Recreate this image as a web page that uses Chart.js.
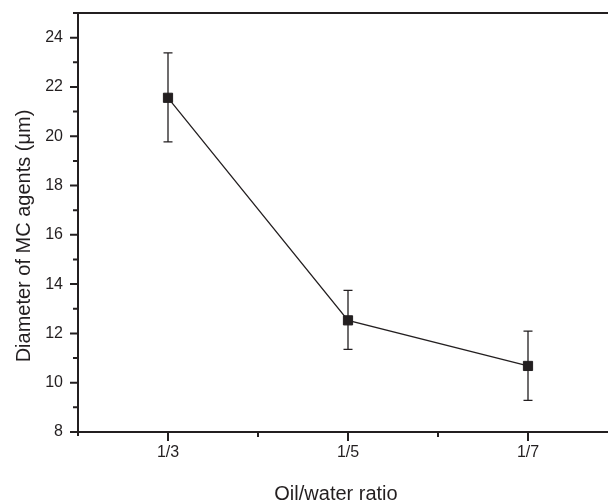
<!DOCTYPE html>
<html>
<head>
<meta charset="utf-8">
<script src="https://cdn.jsdelivr.net/npm/chart.js@4"></script>
<style>
  html, body { margin: 0; padding: 0; background: #fff; overflow: hidden; }
  #wrap { width: 608px; height: 502px; overflow: hidden; }
</style>
</head>
<body>
<div id="wrap"><canvas id="diameterChart" width="640" height="502"></canvas></div>
<script>
// oil/water ratio categories and measured diameters (um)
const categories = ['1/3', '1/5', '1/7'];
const diameter = [21.56, 12.53, 10.68];
const errUpper = [23.38, 13.75, 12.09];
const errLower = [19.77, 11.35, 9.28];
const yTicks = [8, 10, 12, 14, 16, 18, 20, 22, 24];

const ink = '#231f20';
const font = 'Arial, "Liberation Sans", Helvetica, sans-serif';

const points = diameter.map((v, i) => ({ x: i + 1, y: v }));

const framePlugin = {
  id: 'frame',
  beforeDatasetsDraw(chart) {
    const { ctx, scales: { x, y } } = chart;
    ctx.save();
    ctx.strokeStyle = ink;
    ctx.lineWidth = 1.3;
    points.forEach((p, i) => {
      const px = x.getPixelForValue(p.x);
      const top = y.getPixelForValue(errUpper[i]);
      const bot = y.getPixelForValue(errLower[i]);
      ctx.beginPath();
      ctx.moveTo(px, top); ctx.lineTo(px, bot);
      ctx.moveTo(px - 4.5, top); ctx.lineTo(px + 4.5, top);
      ctx.moveTo(px - 4.5, bot); ctx.lineTo(px + 4.5, bot);
      ctx.stroke();
    });
    ctx.restore();
  },
  afterDraw(chart) {
    const { ctx, chartArea: a, scales: { x, y } } = chart;
    ctx.save();
    ctx.strokeStyle = ink;
    ctx.lineWidth = 2;
    ctx.beginPath();
    ctx.moveTo(a.left, a.top); ctx.lineTo(a.right, a.top);
    ctx.moveTo(a.left, a.top); ctx.lineTo(a.left, a.bottom + 4);
    ctx.moveTo(a.left, a.bottom); ctx.lineTo(a.right, a.bottom);
    ctx.stroke();

    // y ticks: major every 2, minor in between
    ctx.beginPath();
    y.ticks.forEach(t => {
      const py = y.getPixelForValue(t.value);
      const len = yTicks.includes(t.value) ? 8 : 5;
      ctx.moveTo(a.left - len, py); ctx.lineTo(a.left, py);
    });
    // x ticks: major on categories, minor halfway
    x.ticks.forEach(t => {
      if (t.value <= x.min) return;
      const px = x.getPixelForValue(t.value);
      const len = Number.isInteger(t.value) ? 9 : 5;
      ctx.moveTo(px, a.bottom); ctx.lineTo(px, a.bottom + len);
    });
    ctx.stroke();

    // axis titles
    ctx.fillStyle = ink;
    ctx.font = '20px ' + font;
    ctx.textAlign = 'center';
    ctx.textBaseline = 'alphabetic';
    ctx.fillText('Oil/water ratio', 336, 500);
    ctx.translate(30, 236);
    ctx.rotate(-Math.PI / 2);
    ctx.fillText('Diameter of MC agents (\u03bcm)', 0, 0);
    ctx.restore();
  }
};

new Chart(document.getElementById('diameterChart'), {
  type: 'line',
  data: {
    datasets: [{
      data: points,
      borderColor: ink,
      borderWidth: 1.3,
      pointStyle: 'rect',
      pointRadius: 6.5,
      pointBackgroundColor: ink,
      pointBorderColor: ink,
      pointBorderWidth: 1,
      tension: 0
    }]
  },
  options: {
    responsive: false,
    animation: false,
    layout: { padding: { left: 0, top: 13, right: 22, bottom: 0 } },
    plugins: { legend: { display: false }, tooltip: { enabled: false } },
    scales: {
      x: {
        type: 'linear',
        min: 0.5,
        max: 3.5,
        grid: { display: false, drawTicks: false },
        border: { display: false },
        afterFit: s => { s.height = 70; s.paddingLeft = 0; s.paddingRight = 0; },
        ticks: {
          stepSize: 0.5,
          autoSkip: false,
          maxRotation: 0,
          padding: 11,
          color: ink,
          font: { family: font, size: 16 },
          callback: v => Number.isInteger(v) && v >= 1 && v <= categories.length ? categories[v - 1] : ''
        }
      },
      y: {
        min: 8,
        max: 25,
        grid: { display: false, drawTicks: false },
        border: { display: false },
        afterFit: s => { s.width = 78; s.paddingTop = 0; s.paddingBottom = 0; },
        ticks: {
          stepSize: 1,
          autoSkip: false,
          padding: 15,
          color: ink,
          font: { family: font, size: 16 },
          callback: v => yTicks.includes(v) ? String(v) : ''
        }
      }
    }
  },
  plugins: [framePlugin]
});
</script>
</body>
</html>
